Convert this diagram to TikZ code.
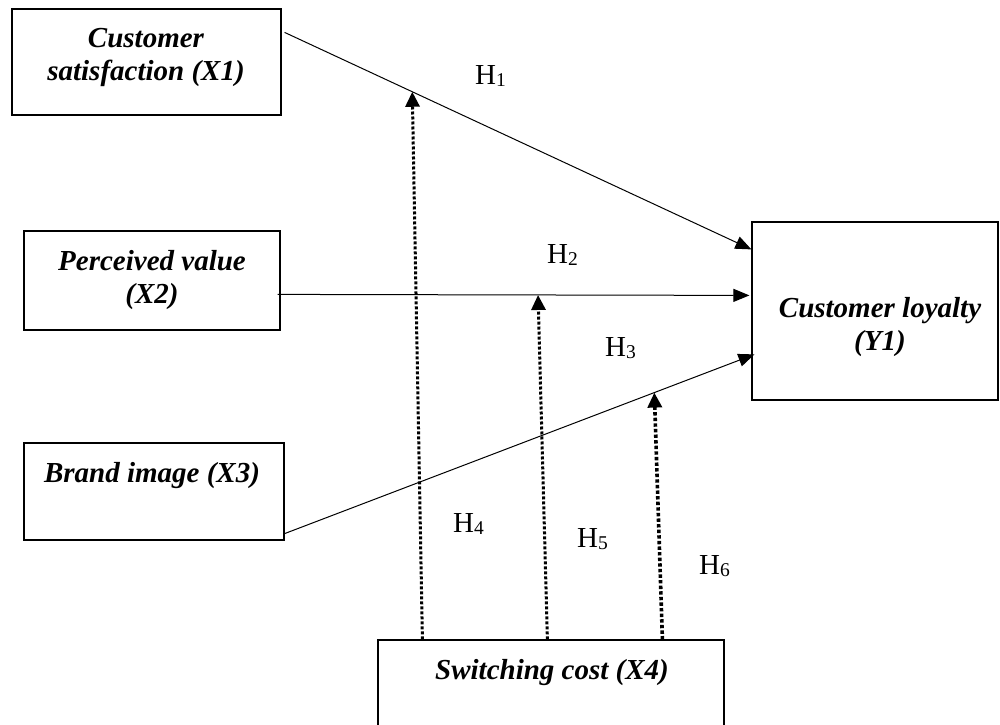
\documentclass[tikz,border=0pt]{standalone}
\usepackage{fontspec}
\setmainfont{Liberation Serif}
\usetikzlibrary{arrows.meta,calc}
\newcommand\hlab[1]{H\raisebox{-2pt}{\fontsize{19.5}{19.5}\selectfont #1}}
\begin{document}
\begin{tikzpicture}[x=1pt,y=-1pt,
  box/.style={draw, line width=1.2pt, rectangle, inner sep=0pt},
  boxtext/.style={font=\fontsize{29}{33}\selectfont\bfseries\itshape, align=center, inner sep=0pt},
  hyp/.style={font=\fontsize{29}{30}\selectfont, anchor=base west, inner sep=0pt},
  link/.style={line width=1pt, -{Triangle[length=16pt,width=13pt]}},
  moder/.style={line width=3pt, dash pattern=on 3pt off 2pt, -{Triangle[length=15pt,width=14pt]}},
]
\path[use as bounding box, clip] (0,0) rectangle (1000,724);

% boxes
\node[box, minimum width=269pt, minimum height=106pt] (x1) at (146.5,62) {};
\node[box, minimum width=256pt, minimum height=99pt] (x2) at (152,280.5) {};
\node[box, minimum width=260pt, minimum height=97pt] (x3) at (154,491.5) {};
\node[box, minimum width=246pt, minimum height=178pt] (y1) at (875,311) {};
\node[box, minimum width=346pt, minimum height=100pt] (x4) at (551,690) {};

% box texts
\node[boxtext] (x1t) at (146,57) {Customer\\satisfaction (X1)};
\node[boxtext] (x2t) at (152,280.5) {Perceived value\\(X2)};
\node[boxtext] (x3t) at (152,476) {Brand image (X3)};
\node[boxtext] (y1t) at (880,327) {Customer loyalty\\(Y1)};
\node[boxtext] (x4t) at (552,673) {Switching cost (X4)};

% connectors
\coordinate (s1) at ($(x1.north east)+(3,24)$);
\coordinate (e1) at ($(y1.north west)+(0,28)$);
\coordinate (s2) at ($(x2.north east)+(-3,64)$);
\coordinate (e2) at ($(y1.north west)+(-2,74)$);
\coordinate (s3) at ($(x3.south east)+(0,-7)$);
\coordinate (e3) at ($(y1.north west)+(3,133)$);

\draw[link] (s1) -- coordinate[pos=0.2735] (m1) (e1);
\draw[link] (s2) -- coordinate[pos=0.552] (m2) (e2);
\draw[link] (s3) -- coordinate[pos=0.787] (m3) (e3);

\draw[moder] ($(x4.north west)+(45,0)$) -- (m1);
\draw[moder] ($(x4.north west)+(170,0)$) -- (m2);
\draw[moder, line width=3.6pt, dash pattern=on 3.4pt off 2.2pt] ($(x4.north west)+(285,0)$) -- (m3);

% hypothesis labels
\node[hyp] (h1) at (475,84) {\hlab{1}};
\node[hyp] (h2) at (547,263) {\hlab{2}};
\node[hyp] (h3) at (605,356) {\hlab{3}};
\node[hyp] (h4) at (453,532) {\hlab{4}};
\node[hyp] (h5) at (577,547) {\hlab{5}};
\node[hyp] (h6) at (699,574) {\hlab{6}};
\end{tikzpicture}
\end{document}
